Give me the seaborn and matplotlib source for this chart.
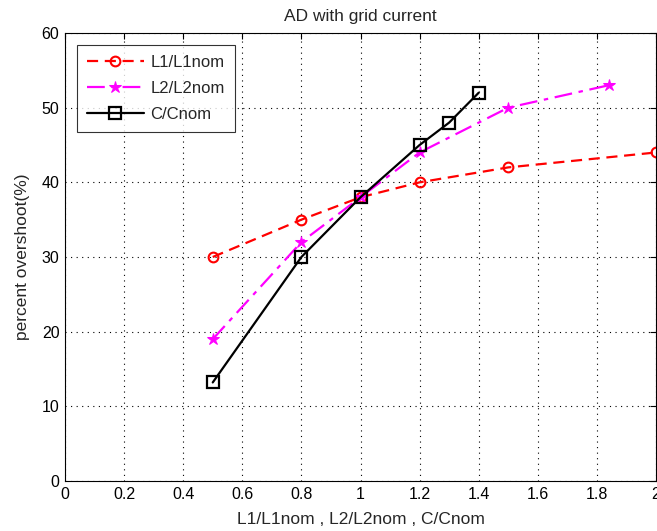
import matplotlib
matplotlib.use("Agg")
import matplotlib.pyplot as plt
import seaborn as sns
import pandas as pd

l1_x = [0.5, 0.8, 1.0, 1.2, 1.5, 2.0]
l1_y = [30, 35, 38, 40, 42, 44]
l2_x = [0.5, 0.8, 1.0, 1.2, 1.5, 1.84]
l2_y = [19, 32, 38, 44, 50, 53]
c_x = [0.5, 0.8, 1.0, 1.2, 1.3, 1.4]
c_y = [13.2, 30, 38, 45, 48, 52]
x_ticks = [0, 0.2, 0.4, 0.6, 0.8, 1, 1.2, 1.4, 1.6, 1.8, 2]
x_tick_labels = ["0", "0.2", "0.4", "0.6", "0.8", "1", "1.2", "1.4", "1.6", "1.8", "2"]
y_ticks = [0, 10, 20, 30, 40, 50, 60]

sns.set_style("white")
plt.rcParams['font.family'] = ['Liberation Sans', 'DejaVu Sans']

fig = plt.figure(figsize=(6.57, 5.31), dpi=100)
ax = fig.add_axes([65/657, 50/531, 591/657, 448/531])

df1 = pd.DataFrame({"x": l1_x, "y": l1_y})
df2 = pd.DataFrame({"x": l2_x, "y": l2_y})
df3 = pd.DataFrame({"x": c_x, "y": c_y})

sns.lineplot(data=df1, x="x", y="y", ax=ax, color="red", linestyle=(0, (5, 3)), linewidth=1.6,
             marker="o", markersize=7, markerfacecolor="none", markeredgecolor="red",
             markeredgewidth=1.5, label="L1/L1nom", sort=False)
sns.lineplot(data=df2, x="x", y="y", ax=ax, color="magenta", linestyle=(0, (8, 3, 2, 3)), linewidth=1.6,
             marker="*", markersize=9, markerfacecolor="magenta", markeredgecolor="magenta",
             label="L2/L2nom", sort=False)
sns.lineplot(data=df3, x="x", y="y", ax=ax, color="black", linestyle="-", linewidth=1.6,
             marker="s", markersize=8, markerfacecolor="none", markeredgecolor="black",
             markeredgewidth=1.6, label="C/Cnom", sort=False)

ax.set_xlim(0, 2)
ax.set_ylim(0, 60)
ax.set_xticks(x_ticks)
ax.set_xticklabels(x_tick_labels)
ax.set_yticks(y_ticks)
ax.grid(True, color="black", linestyle=(0, (1, 4)), linewidth=0.8)
ax.tick_params(direction="in", length=4, labelsize=11.5, colors="black", top=True, right=True, pad=4)
for s in ax.spines.values():
    s.set_color("black")
    s.set_linewidth(0.8)

ax.set_title("AD with grid current", fontsize=12.5, pad=9)
ax.set_xlabel("L1/L1nom , L2/L2nom , C/Cnom", fontsize=12.5)
ax.set_ylabel("percent overshoot(%)", fontsize=12.5)
ax.xaxis.set_label_coords(0.5, -0.07)
ax.yaxis.set_label_coords(-0.06, 0.5)

leg = ax.legend(loc="upper left", bbox_to_anchor=(0.0203, 0.973), fontsize=12, frameon=True,
                fancybox=False, edgecolor="black", handlelength=3.4, borderpad=0.6,
                labelspacing=0.65, handletextpad=0.4, borderaxespad=0)
leg.get_frame().set_linewidth(0.8)

fig.savefig("out.png", dpi=100)
